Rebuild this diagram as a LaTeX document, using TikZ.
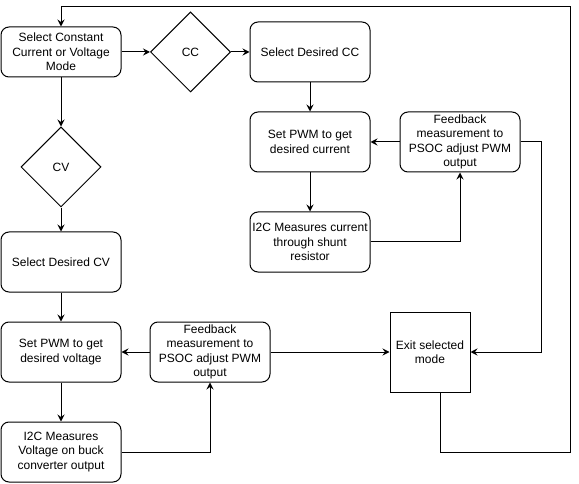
\documentclass[tikz,border=0pt]{standalone}
\usepackage{fontspec}
\setmainfont{Liberation Sans}
\usetikzlibrary{shapes.geometric,arrows.meta}
\begin{document}
\begin{tikzpicture}[x=1pt,y=-1pt,
  every node/.style={font=\fontsize{12}{14.5}\selectfont,align=center,inner sep=0pt,line width=1pt},
  box/.style={draw,rounded corners=8pt,minimum width=120pt,minimum height=60pt},
  dia/.style={draw,diamond,minimum width=80pt,minimum height=80pt},
  sq/.style={draw,minimum width=80pt,minimum height=80pt},
  arr/.style={-{Stealth[length=7pt,width=7pt,inset=2.5pt]},line width=1pt},
  ln/.style={line width=1pt}]
\useasboundingbox (0,0) rectangle (579,484);
\node[box,minimum height=50pt] (m) at (61,52) {Select Constant\\Current or Voltage\\Mode};
\node[dia] (cc) at (190.5,52) {CC};
\node[box] (scc) at (310,52) {Select Desired CC};
\node[box] (pwmc) at (310,142) {Set PWM to get\\desired current};
\node[box] (fbc) at (460,142) {Feedback\\measurement to\\PSOC adjust PWM\\output};
\node[box] (i2cc) at (310,242) {I2C Measures current\\through shunt\\resistor};
\node[dia] (cv) at (61,167) {CV};
\node[box] (scv) at (61,262) {Select Desired CV};
\node[box] (pwmv) at (61,352) {Set PWM to get\\desired voltage};
\node[box] (fbv) at (210,352) {Feedback\\measurement to\\PSOC adjust PWM\\output};
\node[sq] (exit) at (430,352) {Exit selected\\mode};
\node[box] (i2cv) at (61,452) {I2C Measures\\Voltage on buck\\converter output};
\coordinate (r) at (570,452);
\coordinate (t) at (570,7);
\draw[arr] (m) -- (cc);
\draw[arr] (cc) -- (scc);
\draw[arr] (scc) -- (pwmc);
\draw[arr] (pwmc) -- (i2cc);
\draw[arr] (fbc) -- (pwmc);
\draw[arr] (i2cc.east) -| (fbc.south);
\draw[arr] (fbc.east) -- ++(21,0) |- (exit.east);
\draw[arr] (m) -- (cv);
\draw[arr] (cv) -- (scv);
\draw[arr] (scv) -- (pwmv);
\draw[arr] (pwmv) -- (i2cv);
\draw[arr] (fbv) -- (pwmv);
\draw[arr] (i2cv.east) -| (fbv.south);
\draw[arr] (fbv) -- (exit);
\draw[arr] ([xshift=10pt]exit.south) |- (r) -- (t) -| (m.north);
\end{tikzpicture}
\end{document}
